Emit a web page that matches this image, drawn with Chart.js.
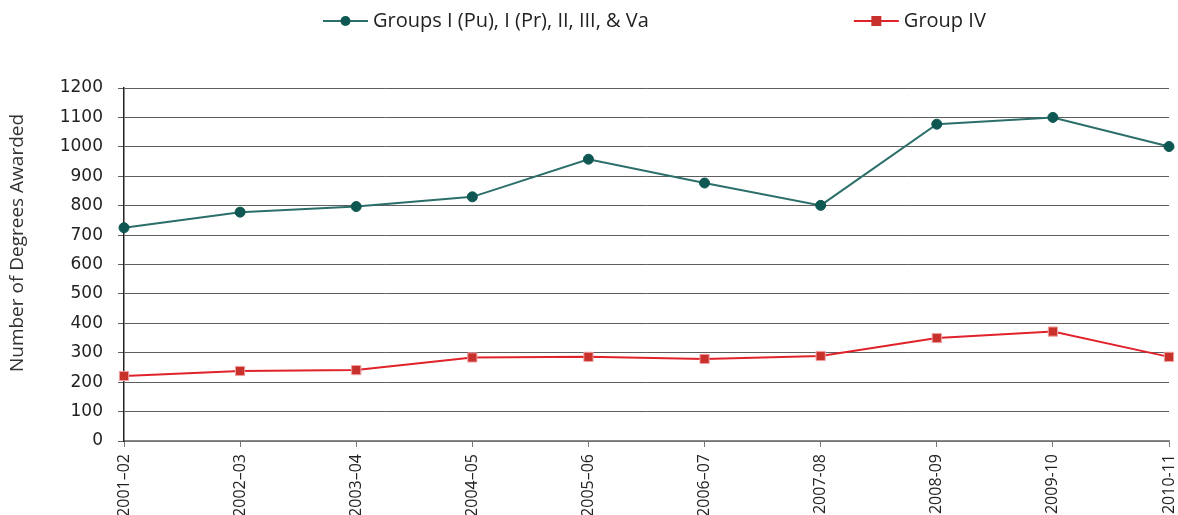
<!DOCTYPE html>
<html>
<head>
<meta charset="utf-8">
<script src="https://cdn.jsdelivr.net/npm/chart.js@4/dist/chart.umd.min.js"></script>
<style>
  html, body { margin: 0; padding: 0; background: #fff; }
  #wrap { width: 1178px; height: 515px; }
</style>
</head>
<body>
<div id="wrap"><canvas id="degreesChart" width="1178" height="515"></canvas></div>
<script>
// Academic years
const years = ['2001–02', '2002–03', '2003–04', '2004–05', '2005–06', '2006–07',
               '2007-08', '2008-09', '2009-10', '2010-11'];

// Degrees awarded
const groupsMain = [725, 778, 797, 830, 958, 877, 801, 1077, 1100, 1001];
const groupFour = [221, 238, 241, 284, 286, 279, 289, 350, 372, 286];

const seriesLabels = ['Groups I (Pu), I (Pr), II, III, & Va', 'Group IV'];
const yTitle = 'Number of Degrees Awarded';

const ctx = document.getElementById('degreesChart').getContext('2d');

// Legend drawn by hand: line + marker, wide gap between the two entries.
// The y title is drawn here too, since it sits a bit above the axis centre.
const lineLegend = {
    id: 'lineLegend',
    afterDraw(chart) {
        const c = chart.ctx;
        c.save();
        c.font = '20px "Open Sans"';
        c.textBaseline = 'middle';
        const sample = 45, gap = 5, between = 205;
        let x = 323;
        const y = 21;
        chart.data.datasets.forEach(ds => {
            c.strokeStyle = ds.borderColor;
            c.lineWidth = 2;
            c.beginPath();
            c.moveTo(x, y);
            c.lineTo(x + sample, y);
            c.stroke();
            c.fillStyle = ds.pointBackgroundColor;
            if (ds.pointStyle === 'rect') {
                c.fillRect(x + sample / 2 - 5, y - 5, 10, 10);
            } else {
                c.beginPath();
                c.arc(x + sample / 2, y, 5, 0, Math.PI * 2);
                c.fill();
            }
            c.fillStyle = '#222';
            c.textAlign = 'left';
            c.fillText(ds.label, x + sample + gap, y);
            x += sample + gap + c.measureText(ds.label).width + between;
        });

        // y axis title
        c.translate(18, 243);
        c.rotate(-Math.PI / 2);
        c.font = '19px "Open Sans"';
        c.textAlign = 'center';
        c.fillStyle = '#333';
        c.fillText(yTitle, 0, 0);
        c.restore();
    }
};

const degreesChart = new Chart(ctx, {
    type: 'line',
    data: {
        labels: years,
        datasets: [
            {
                label: seriesLabels[0],
                data: groupsMain,
                borderColor: '#2b6e6a',
                borderWidth: 2,
                pointStyle: 'circle',
                pointRadius: 5,
                pointBackgroundColor: '#0f5752',
                pointBorderColor: '#0f5752',
                pointBorderWidth: 1,
                tension: 0,
                fill: false
            },
            {
                label: seriesLabels[1],
                data: groupFour,
                borderColor: '#e0222b',
                borderWidth: 2,
                pointStyle: 'rect',
                pointRadius: 6.5,
                pointBackgroundColor: '#c8302c',
                pointBorderColor: '#f0a0a0',
                pointBorderWidth: 1,
                tension: 0,
                fill: false
            }
        ]
    },
    options: {
        responsive: false,
        animation: false,
        layout: { padding: { top: 88, right: 9, left: 6, bottom: 0 } },
        plugins: {
            legend: { display: false },
            tooltip: { enabled: false }
        },
        scales: {
            x: {
                offset: false,
                afterFit(scale) {
                    scale.height = 74;
                    scale.paddingLeft = 0;
                    scale.paddingRight = 0;
                },
                grid: {
                    drawOnChartArea: false,
                    drawTicks: true,
                    tickLength: 6,
                    color: '#777'
                },
                border: { color: '#888', width: 1.5 },
                ticks: {
                    minRotation: 90,
                    maxRotation: 90,
                    padding: 7,
                    color: '#222',
                    font: { family: '"Open Sans"', size: 16 }
                }
            },
            y: {
                min: 0,
                max: 1200,
                afterFit(scale) {
                    scale.width = 118;
                    scale.paddingTop = 0;
                    scale.paddingBottom = 0;
                },
                grid: {
                    color: '#5e5e5e',
                    lineWidth: 1,
                    drawTicks: true,
                    tickLength: 6
                },
                border: { color: '#222', width: 1.5 },
                ticks: {
                    stepSize: 100,
                    padding: 15,
                    color: '#222',
                    font: { family: '"DejaVu Sans"', size: 17 },
                    callback: value => String(value)
                }
            }
        }
    },
    plugins: [lineLegend]
});
</script>
</body>
</html>
